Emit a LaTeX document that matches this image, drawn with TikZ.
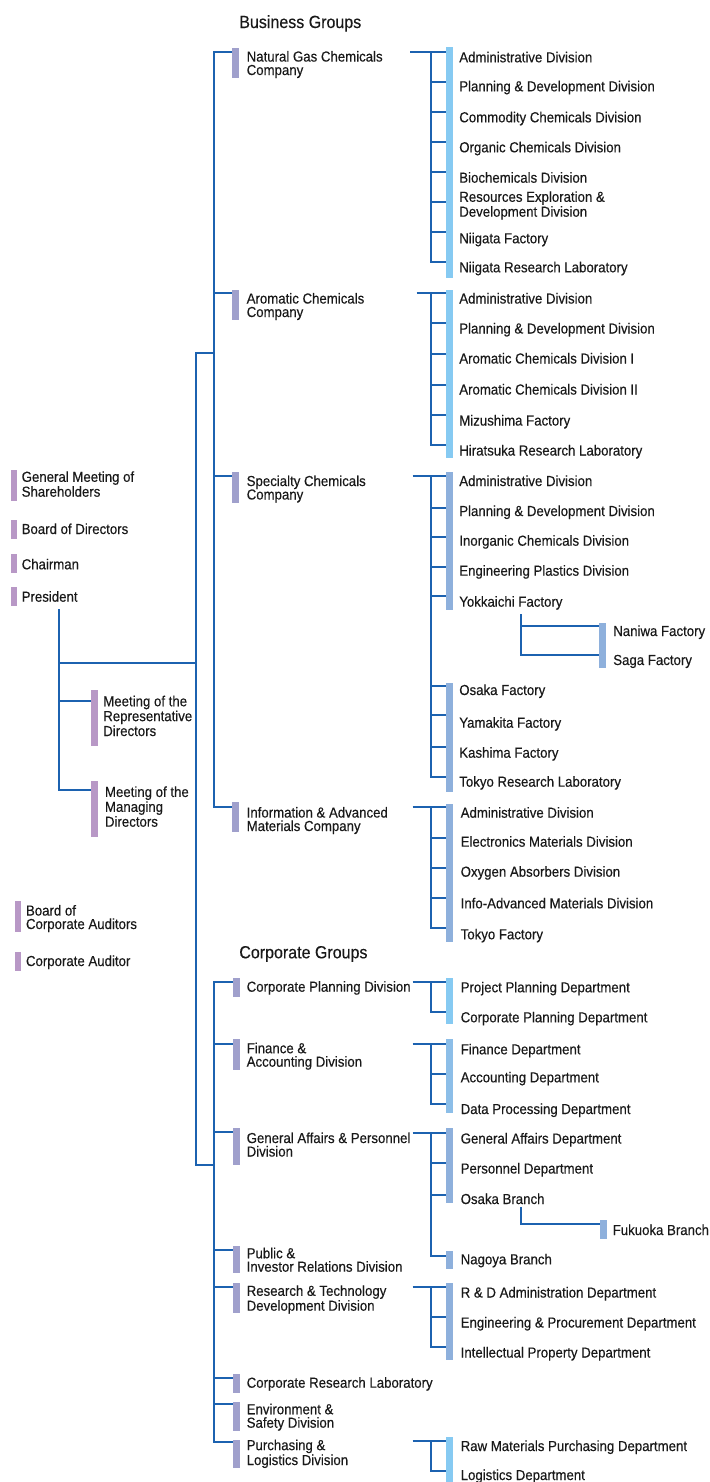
\documentclass[tikz,border=0pt]{standalone}
\usepackage{fontspec}
\setmainfont{Liberation Sans}[FakeStretch=0.91,FakeBold=0.3]
\definecolor{lncol}{RGB}{28,98,176}
\definecolor{cobar}{RGB}{160,160,204}
\definecolor{lfbar}{RGB}{184,152,198}
\definecolor{skybar}{RGB}{134,202,242}
\definecolor{medbar}{RGB}{142,176,220}
\definecolor{fabar}{RGB}{140,190,232}
\definecolor{txt}{RGB}{25,25,25}
\tikzset{
  conn/.style={draw=lncol, line width=1.5pt},
  lbl/.style={anchor=base west, inner sep=0pt, outer sep=0pt, align=left, text=txt, font=\fontsize{10.9}{10.1}\selectfont},
  head/.style={anchor=base west, inner sep=0pt, outer sep=0pt, text=txt, font=\fontsize{13.2}{15}\selectfont},
}
\newcommand\barnode[6]{\node[fill=#6, draw=none, inner sep=0pt, outer sep=0pt, minimum width={(#4-#2)*0.75pt}, minimum height={(#5-#3)*0.75pt}] (#1) at ({(#2+#4)/2},{(#3+#5)/2}) {};}
\begin{document}
\begin{tikzpicture}[x=0.75pt,y=-0.75pt]
\fill[white] (0,0) rectangle (710,1482);
\useasboundingbox (0,0) rectangle (710,1482);

% ---------- headings
\node[head] (hbg) at (239.3,28) {Business Groups};
\node[head] (hcg) at (239.3,958.3) {Corporate Groups};

% ---------- left column (multi-line labels are placed by their last baseline)
\barnode{bgm}{11}{470}{17}{500.7}{lfbar}
\barnode{bbd}{11}{520}{17}{539}{lfbar}
\barnode{bch}{11}{554}{17}{572.7}{lfbar}
\barnode{bpr}{11}{587}{17}{605.7}{lfbar}
\barnode{brep}{91}{690}{98}{745.7}{lfbar}
\barnode{bman}{91}{781}{98}{836.7}{lfbar}
\barnode{bbca}{15}{901}{21}{931.7}{lfbar}
\barnode{bca}{15}{951.7}{21}{970.7}{lfbar}
\node[lbl] (gm) at (21.7,496.7) {General Meeting of\\Shareholders};
\node[lbl] (bd) at (21.7,534) {Board of Directors};
\node[lbl] (ch) at (21.7,569.3) {Chairman};
\node[lbl] (pr) at (21.7,601.7) {President};
\node[lbl] (rep) at (103.3,736) {Meeting of the\\Representative\\Directors};
\node[lbl] (man) at (105,826.7) {Meeting of the\\Managing\\Directors};
\node[lbl] (bca2) at (26,929) {Board of\\Corporate Auditors};
\node[lbl] (ca) at (26,966) {Corporate Auditor};

% ---------- companies
\barnode{ngb}{232}{48}{239}{77.7}{cobar}
\barnode{arb}{232}{290}{239}{320}{cobar}
\barnode{spb}{232}{472}{239}{502.7}{cobar}
\barnode{iab}{232}{802}{239}{832}{cobar}
\node[lbl] (ng) at (246.7,75) {Natural Gas Chemicals\\Company};
\node[lbl] (ar) at (246.7,317) {Aromatic Chemicals\\Company};
\node[lbl] (sp) at (246.7,499.5) {Specialty Chemicals\\Company};
\node[lbl] (ia) at (246.7,831) {Information \& Advanced\\Materials Company};

% ---------- corporate divisions
\barnode{cpb}{232.5}{978.3}{239.5}{996.7}{cobar}
\barnode{fab}{232.5}{1039}{239.5}{1070}{cobar}
\barnode{gab}{232.5}{1128}{239.5}{1165}{cobar}
\barnode{prb}{232.5}{1246}{239.5}{1272.7}{cobar}
\barnode{rtb}{232.5}{1283}{239.5}{1313}{cobar}
\barnode{crb}{232.5}{1374}{239.5}{1392.7}{cobar}
\barnode{esb}{232.5}{1401.7}{239.5}{1430.7}{cobar}
\barnode{plb}{232.5}{1440}{239.5}{1468.3}{cobar}
\node[lbl] (cp) at (246.7,991.7) {Corporate Planning Division};
\node[lbl] (fa) at (246.7,1066.7) {Finance \&\\Accounting Division};
\node[lbl] (ga) at (246.7,1156.5) {General Affairs \& Personnel\\Division};
\node[lbl] (pir) at (246.7,1271.7) {Public \&\\Investor Relations Division};
\node[lbl] (rt) at (246.7,1310.7) {Research \& Technology\\Development Division};
\node[lbl] (crl) at (246.7,1387.7) {Corporate Research Laboratory};
\node[lbl] (es) at (246.7,1427.7) {Environment \&\\Safety Division};
\node[lbl] (pl) at (246.7,1465) {Purchasing \&\\Logistics Division};

% ---------- main connectors
\coordinate (bNG) at (214,51.5);
\coordinate (bAR) at (214,293.3);
\coordinate (bSP) at (214,475.7);
\coordinate (bIA) at (214,806.7);
\coordinate (mTop) at (196,353);
\coordinate (mPres) at (196,663.3);
\coordinate (mBot) at (196,1165);
\coordinate (pTop) at (59,609.3);
\coordinate (pMid) at (59,663.3);
\coordinate (pRep) at (59,700.7);
\coordinate (pMan) at (59,790);
\coordinate (cCP) at (214,981.7);
\coordinate (cFA) at (214,1044);
\coordinate (cGA) at (214,1132);
\coordinate (cPR) at (214,1250);
\coordinate (cRT) at (214,1287.3);
\coordinate (cCR) at (214,1378.3);
\coordinate (cES) at (214,1404.3);
\coordinate (cPL) at (214,1441.7);

\draw[conn] (ngb.west |- bNG) -- (bNG) -- (bIA) -- (iab.west |- bIA);
\draw[conn] (bAR) -- (arb.west |- bAR);
\draw[conn] (bSP) -- (spb.west |- bSP);
\draw[conn] (mTop -| bNG) -- (mTop) -- (mBot) -- (mBot -| cCP);
\draw[conn] (pTop) -- (pMan) -- (bman.west |- pMan);
\draw[conn] (pRep) -- (brep.west |- pRep);
\draw[conn] (pMid) -- (mPres);
\draw[conn] (cpb.west |- cCP) -- (cCP) -- (cPL) -- (plb.west |- cPL);
\draw[conn] (cFA) -- (fab.west |- cFA);
\draw[conn] (cGA) -- (gab.west |- cGA);
\draw[conn] (cPR) -- (prb.west |- cPR);
\draw[conn] (cRT) -- (rtb.west |- cRT);
\draw[conn] (cCR) -- (crb.west |- cCR);
\draw[conn] (cES) -- (esb.west |- cES);

% ---------- group 1: Natural Gas
\barnode{g1b}{445.7}{46.7}{452.7}{278}{skybar}
\node[lbl] (g1a) at (459.3,62.3) {Administrative Division};
\node[lbl] (g1c) at (459.3,91.3) {Planning \& Development Division};
\node[lbl] (g1d) at (459.3,122.3) {Commodity Chemicals Division};
\node[lbl] (g1e) at (459.3,152.3) {Organic Chemicals Division};
\node[lbl] (g1f) at (459.3,182.7) {Biochemicals Division};
\node[lbl] (g1g) at (459.3,216.7) {Resources Exploration \&\\Development Division};
\node[lbl] (g1h) at (459.3,243.3) {Niigata Factory};
\node[lbl] (g1i) at (459.3,272.3) {Niigata Research Laboratory};
\coordinate (g1s) at (410,51.7);
\draw[conn] (g1s) -- (g1b.west |- g1s);
\draw[conn] (430.5,51.7) -- (430.5,262.3) -- (g1b.west |- 0,262.3);
\foreach \y in {81.7,111.7,142.3,172.3,202.3,232.3}
  \draw[conn] (430.5,\y) -- (g1b.west |- 0,\y);

% ---------- group 2: Aromatic
\barnode{g2b}{445.7}{290}{452.7}{458}{skybar}
\node[lbl] (g2a) at (459.3,303.5) {Administrative Division};
\node[lbl] (g2c) at (459.3,333.5) {Planning \& Development Division};
\node[lbl] (g2d) at (459.3,363.5) {Aromatic Chemicals Division I};
\node[lbl] (g2e) at (459.3,394.5) {Aromatic Chemicals Division II};
\node[lbl] (g2f) at (459.3,425.5) {Mizushima Factory};
\node[lbl] (g2g) at (459.3,455.5) {Hiratsuka Research Laboratory};
\coordinate (g2s) at (416.7,293.3);
\draw[conn] (g2s) -- (g2b.west |- g2s);
\draw[conn] (430.5,293.3) -- (430.5,445) -- (g2b.west |- 0,445);
\foreach \y in {323,353.5,384.5,415}
  \draw[conn] (430.5,\y) -- (g2b.west |- 0,\y);

% ---------- group 3: Specialty
\barnode{g3b}{445.7}{472.3}{452.7}{610}{medbar}
\barnode{g3c}{445.7}{682.7}{452.7}{791.7}{medbar}
\node[lbl] (g3a1) at (459.3,486) {Administrative Division};
\node[lbl] (g3a2) at (459.3,516) {Planning \& Development Division};
\node[lbl] (g3a3) at (459.3,545.7) {Inorganic Chemicals Division};
\node[lbl] (g3a4) at (459.3,575.7) {Engineering Plastics Division};
\node[lbl] (g3a5) at (459.3,606.7) {Yokkaichi Factory};
\node[lbl] (g3a6) at (459.3,695) {Osaka Factory};
\node[lbl] (g3a7) at (459.3,727.7) {Yamakita Factory};
\node[lbl] (g3a8) at (459.3,757.7) {Kashima Factory};
\node[lbl] (g3a9) at (459.3,786.7) {Tokyo Research Laboratory};
\coordinate (g3s) at (412.7,475.7);
\draw[conn] (g3s) -- (g3b.west |- g3s);
\draw[conn] (430.5,475.7) -- (430.5,776.7) -- (g3c.west |- 0,776.7);
\foreach \y in {507.7,536.7,566.7,595.7}
  \draw[conn] (430.5,\y) -- (g3b.west |- 0,\y);
\foreach \y in {685.7,715,746.7}
  \draw[conn] (430.5,\y) -- (g3c.west |- 0,\y);
% Naniwa / Saga
\barnode{nsb}{599}{622.7}{606}{667.7}{medbar}
\node[lbl] (nan) at (613.3,636) {Naniwa Factory};
\node[lbl] (sag) at (613.3,665) {Saga Factory};
\coordinate (yk) at (520.7,614.3);
\draw[conn] (yk) -- (520.7,655) -- (nsb.west |- 0,655);
\draw[conn] (520.7,625.7) -- (nsb.west |- 0,625.7);

% ---------- group 4: Info & Advanced
\barnode{g4b}{445.7}{804}{452.7}{941.7}{medbar}
\node[lbl] (g4a1) at (460.7,817.7) {Administrative Division};
\node[lbl] (g4a2) at (460.7,846.7) {Electronics Materials Division};
\node[lbl] (g4a3) at (460.7,876.7) {Oxygen Absorbers Division};
\node[lbl] (g4a4) at (460.7,908.3) {Info-Advanced Materials Division};
\node[lbl] (g4a5) at (460.7,939.3) {Tokyo Factory};
\coordinate (g4s) at (412.7,807.3);
\draw[conn] (g4s) -- (g4b.west |- g4s);
\draw[conn] (430.5,807.3) -- (430.5,928.3) -- (g4b.west |- 0,928.3);
\foreach \y in {837.7,867.7,897.7}
  \draw[conn] (430.5,\y) -- (g4b.west |- 0,\y);

% ---------- corporate planning group
\barnode{c1b}{446}{978.3}{453}{1024}{skybar}
\node[lbl] (c1a) at (460.7,992.3) {Project Planning Department};
\node[lbl] (c1c) at (460.7,1022.3) {Corporate Planning Department};
\coordinate (c1s) at (412.7,981.7);
\draw[conn] (c1s) -- (c1b.west |- c1s);
\draw[conn] (430.5,981.7) -- (430.5,1011.7) -- (c1b.west |- 0,1011.7);

% ---------- finance group
\barnode{c2b}{446}{1039}{453}{1113.3}{fabar}
\node[lbl] (c2a) at (460.7,1054.3) {Finance Department};
\node[lbl] (c2c) at (460.7,1082.3) {Accounting Department};
\node[lbl] (c2d) at (460.7,1114) {Data Processing Department};
\coordinate (c2s) at (412.7,1044);
\draw[conn] (c2s) -- (c2b.west |- c2s);
\draw[conn] (430.5,1044) -- (430.5,1104) -- (c2b.west |- 0,1104);
\draw[conn] (430.5,1074) -- (c2b.west |- 0,1074);

% ---------- general affairs group
\barnode{c3b}{446}{1128}{453}{1203.3}{medbar}
\barnode{c3c}{446}{1251}{453}{1269.3}{medbar}
\node[lbl] (c3a) at (460.7,1143.5) {General Affairs Department};
\node[lbl] (c3d) at (460.7,1173.5) {Personnel Department};
\node[lbl] (c3e) at (460.7,1204) {Osaka Branch};
\node[lbl] (c3f) at (460.7,1264.3) {Nagoya Branch};
\coordinate (c3s) at (412.7,1133);
\draw[conn] (c3s) -- (c3b.west |- c3s);
\draw[conn] (430.5,1133) -- (430.5,1256) -- (c3c.west |- 0,1256);
\draw[conn] (430.5,1163) -- (c3b.west |- 0,1163);
\draw[conn] (430.5,1195) -- (c3b.west |- 0,1195);
% Fukuoka
\barnode{fkb}{600}{1220}{607}{1239}{medbar}
\node[lbl] (fk) at (612.7,1235) {Fukuoka Branch};
\coordinate (ob) at (521,1207.3);
\draw[conn] (ob) -- (521,1224) -- (fkb.west |- 0,1224);

% ---------- research & technology group
\barnode{c4b}{446}{1283}{453}{1360}{medbar}
\node[lbl] (c4a) at (460.7,1297.5) {R \& D Administration Department};
\node[lbl] (c4c) at (460.7,1327.5) {Engineering \& Procurement Department};
\node[lbl] (c4d) at (460.7,1357.5) {Intellectual Property Department};
\coordinate (c4s) at (412.7,1287.3);
\draw[conn] (c4s) -- (c4b.west |- c4s);
\draw[conn] (430.5,1287.3) -- (430.5,1347) -- (c4b.west |- 0,1347);
\draw[conn] (430.5,1317) -- (c4b.west |- 0,1317);

% ---------- purchasing group
\barnode{c5b}{446}{1437}{453}{1482}{skybar}
\node[lbl] (c5a) at (460.7,1451) {Raw Materials Purchasing Department};
\node[lbl] (c5c) at (460.7,1480) {Logistics Department};
\coordinate (c5s) at (412.7,1441);
\draw[conn] (c5s) -- (c5b.west |- c5s);
\draw[conn] (430.5,1441) -- (430.5,1471) -- (c5b.west |- 0,1471);
\end{tikzpicture}
\end{document}
